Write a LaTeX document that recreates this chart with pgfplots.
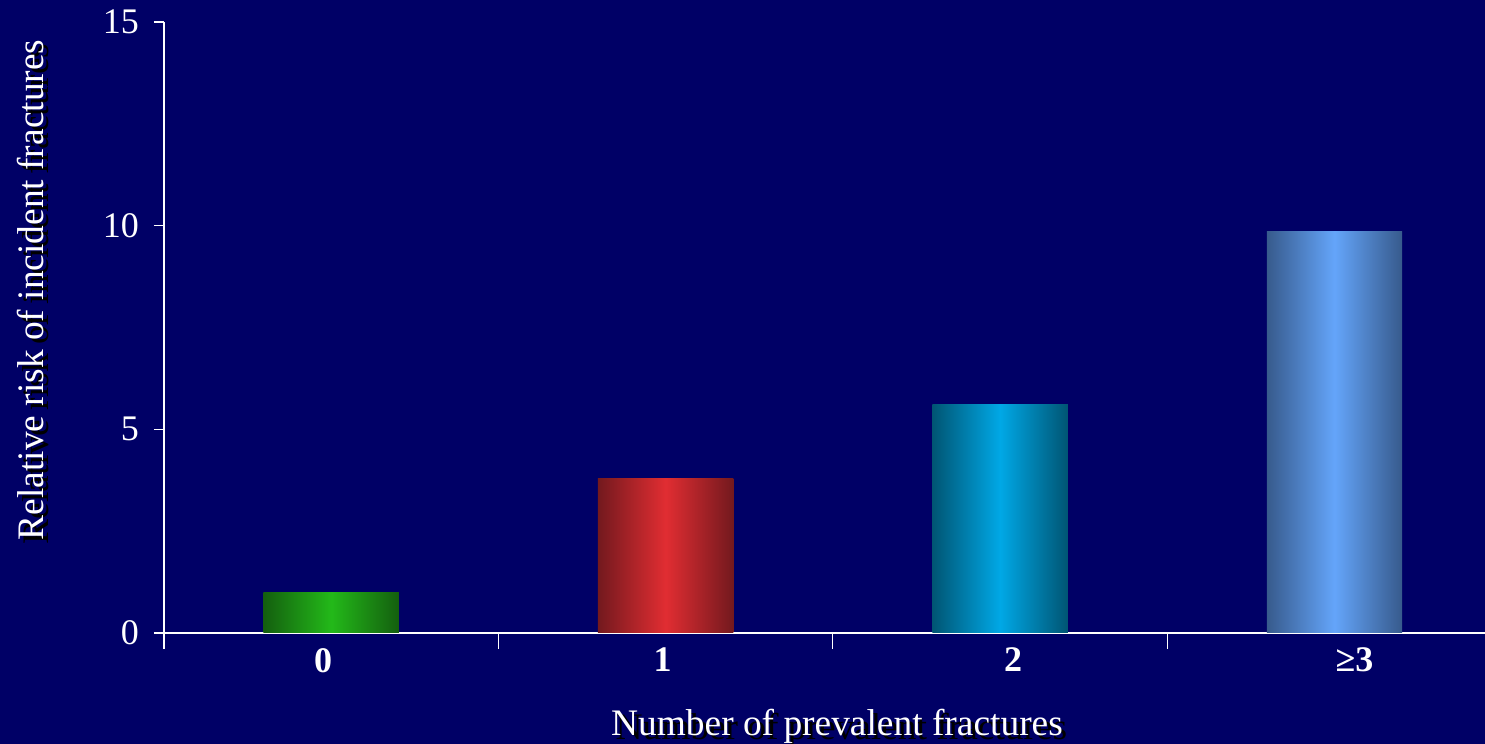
\documentclass[border=0pt]{standalone}
\usepackage{pgfplots}
\pgfplotsset{compat=1.18}
\usepackage{fontspec}
\setmainfont{Liberation Serif}

\definecolor{bg}{RGB}{0,0,102}
\definecolor{gEdge}{RGB}{20,95,15}
\definecolor{gMid}{RGB}{35,185,25}
\definecolor{rEdge}{RGB}{115,25,30}
\definecolor{rMid}{RGB}{225,45,50}
\definecolor{cEdge}{RGB}{0,85,115}
\definecolor{cMid}{RGB}{0,168,230}
\definecolor{bEdge}{RGB}{55,90,140}
\definecolor{bMid}{RGB}{100,165,250}

\newcommand{\lblfont}{\fontsize{18}{21}\selectfont}
\newcommand{\ttlfont}{\fontsize{18.7}{22}\selectfont}

\begin{document}
\begin{tikzpicture}
  % background of the slide
  \fill[bg] (-82pt,-55.5pt) rectangle (660.5pt,316.5pt);

  \begin{axis}[
      scale only axis,
      width=660.5pt, height=305.5pt,
      xmin=-0.5, xmax=3.45,
      ymin=0, ymax=15,
      axis lines*=left,
      axis line style={white, line width=0.7pt},
      tick align=outside,
      xtick={0,1,2,3},
      xticklabels={\kern-8pt 0, \kern-3pt 1, \kern13pt 2, \kern20pt ≥3},
      x tick label style={font=\lblfont\bfseries, white, yshift=1pt},
      major x tick style={draw=none},
      minor xtick={-0.5,0.5,1.5,2.5},
      minor tick length=8pt,
      minor x tick style={white, line width=0.6pt},
      ytick={0,5,10,15},
      major tick length=5pt,
      y tick style={white, line width=0.6pt},
      y tick label style={font=\lblfont, white, xshift=-4pt},
      /pgf/number format/assume math mode=true,
      ybar, bar width=0.405, bar shift=0pt,
      clip=false,
    ]
    % incident fracture risk by number of prevalent fractures
    \addplot[draw=none, left color=gEdge, right color=gEdge, middle color=gMid]
      coordinates {(0,1.0)};
    \addplot[draw=none, left color=rEdge, right color=rEdge, middle color=rMid]
      coordinates {(1,3.8)};
    \addplot[draw=none, left color=cEdge, right color=cEdge, middle color=cMid]
      coordinates {(2,5.6)};
    \addplot[draw=none, left color=bEdge, right color=bEdge, middle color=bMid]
      coordinates {(3,9.85)};
  \end{axis}

  % axis titles with drop shadow
  \node[black, rotate=90, anchor=base, font=\ttlfont] at (-57.8pt,169.5pt)
    {Relative risk of incident fractures};
  \node[white, rotate=90, anchor=base, font=\ttlfont] at (-60pt,171.5pt)
    {Relative risk of incident fractures};
  \node[black, anchor=base, font=\ttlfont] at (338.7pt,-53.5pt)
    {Number of prevalent fractures};
  \node[white, anchor=base, font=\ttlfont] at (336.5pt,-51.5pt)
    {Number of prevalent fractures};

  \pgfresetboundingbox
  \useasboundingbox (-82pt,-55.5pt) rectangle (660.5pt,316.5pt);
\end{tikzpicture}
\end{document}
